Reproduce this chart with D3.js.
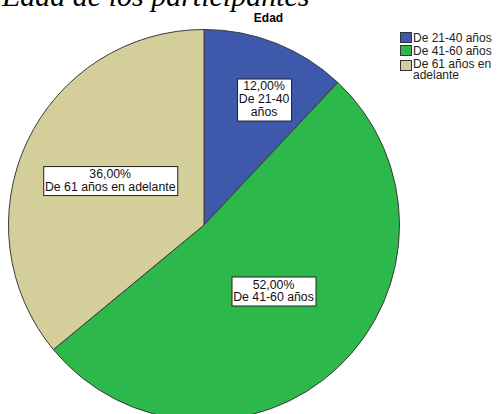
<!DOCTYPE html>
<html><head><meta charset="utf-8">
<script src="https://cdn.jsdelivr.net/npm/d3@7"></script>
<style>body{margin:0;background:#fff}svg{display:block}</style>
</head><body>
<script>
const categories = ["De 21-40 años", "De 41-60 años", "De 61 años en adelante"];
const values = [12, 52, 36];
const labelLines = [["12,00%", "De 21-40", "años"], ["52,00%", "De 41-60 años"], ["36,00%", "De 61 años en adelante"]];
const legendLines = [["De 21-40 años"], ["De 41-60 años"], ["De 61 años en", "adelante"]];
const colors = ["#3e58ab", "#2db84b", "#d4ce9a"];

const W = 497, H = 414;
const cx = 204, cy = 225, R = 195.5;
const labelRadius = [140, 95.5, 104];
const labelShiftDeg = [3.8, -3.5, 0.4];

const svg = d3.select("body").append("svg").attr("width", W).attr("height", H);

svg.append("text").attr("x", 2).attr("y", 6)
  .attr("font-family", "Liberation Serif").attr("font-style", "italic")
  .attr("font-size", 30).attr("fill", "#000").text("Edad de los participantes");

svg.append("text").attr("x", 268.5).attr("y", 22).attr("text-anchor", "middle")
  .attr("font-family", "Liberation Sans").attr("font-weight", "bold")
  .attr("font-size", 12).text("Edad");

const pie = d3.pie().sort(null).value(d => d)(values);
const arc = d3.arc().innerRadius(0).outerRadius(R);
const g = svg.append("g").attr("transform", `translate(${cx},${cy})`);
g.selectAll("path").data(pie).join("path")
  .attr("d", arc).attr("fill", (d, i) => colors[i])
  .attr("stroke", "#3a3a3a").attr("stroke-width", 1);

// labels
const lh = 12.8;
pie.forEach((d, i) => {
  const a = (d.startAngle + d.endAngle) / 2 + labelShiftDeg[i] * Math.PI / 180;
  const x = labelRadius[i] * Math.sin(a), y = -labelRadius[i] * Math.cos(a);
  const lines = labelLines[i];
  const lg = g.append("g").attr("transform", `translate(${x},${y})`);
  const t = lg.append("text").attr("font-family", "Liberation Sans").attr("font-size", 12.3)
    .attr("text-anchor", "middle").attr("fill", "#111");
  lines.forEach((l, j) => t.append("tspan").attr("x", 0)
    .attr("y", (j - (lines.length - 1) / 2) * lh + 4.5).text(l));
  const bb = t.node().getBBox();
  lg.insert("rect", "text").attr("x", Math.round(bb.x - 2) + 0.5).attr("y", Math.round(bb.y - 1) + 0.5)
    .attr("width", Math.round(bb.width + 3)).attr("height", Math.round(bb.height + 2))
    .attr("fill", "#fff").attr("stroke", "#222").attr("stroke-width", 1);
});

// legend
const leg = svg.append("g").attr("transform", "translate(400,32)");
let yy = 0;
legendLines.forEach((lines, i) => {
  leg.append("rect").attr("x", 0.5).attr("y", yy + 0.5 + (lines.length > 1 ? 2 : 0)).attr("width", 11).attr("height", 10)
    .attr("fill", colors[i]).attr("stroke", "#333").attr("stroke-width", 1);
  const t = leg.append("text").attr("font-family", "Liberation Sans").attr("font-size", 12).attr("fill", "#222");
  lines.forEach((l, j) => t.append("tspan").attr("x", 13).attr("y", yy + 10 + j * 11).text(l));
  yy += 13;
});
</script>
</body></html>
